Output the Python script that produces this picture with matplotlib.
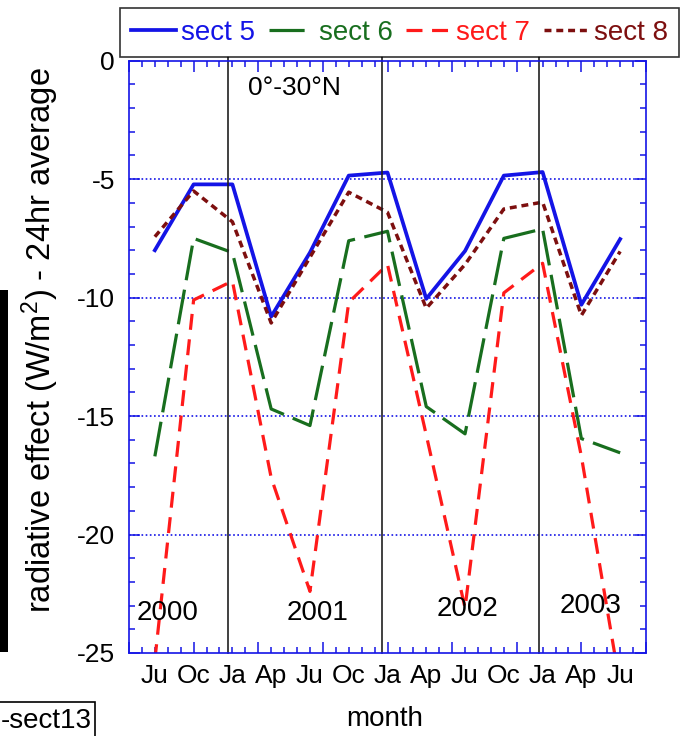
import matplotlib
matplotlib.use('Agg')
import matplotlib.pyplot as plt
from matplotlib.patches import Rectangle

plt.rcParams['font.family'] = ['Liberation Sans Narrow', 'Liberation Sans', 'DejaVu Sans']
plt.rcParams['mathtext.fontset'] = 'custom'
plt.rcParams['mathtext.rm'] = 'Liberation Sans'
plt.rcParams['mathtext.it'] = 'Liberation Sans:italic'

# x = months counted from May 2000, one value per season
month = [2, 5, 8, 11, 14, 17, 20, 23, 26, 29, 32, 35, 38]
month_lab = ['Ju', 'Oc', 'Ja', 'Ap', 'Ju', 'Oc', 'Ja', 'Ap', 'Ju', 'Oc', 'Ja', 'Ap', 'Ju']

sect5 = [-8.0, -5.22, -5.22, -10.8, -8.1, -4.85, -4.72, -10.05, -8.03, -4.85, -4.7, -10.3, -7.53]
sect6 = [-16.7, -7.5, -8.1, -14.7, -15.4, -7.6, -7.2, -14.6, -15.75, -7.5, -7.1, -15.95, -16.55]
sect7 = [-25.3, -10.1, -9.3, -17.6, -22.4, -10.2, -8.6, -15.8, -23.1, -9.8, -8.55, -16.7, -26.4]
sect8 = [-7.43, -5.5, -6.8, -11.07, -8.3, -5.55, -6.4, -10.45, -8.6, -6.26, -5.97, -10.75, -8.05]

years = ['2000', '2001', '2002', '2003']
year_x = [3.0, 14.6, 26.2, 35.7]
year_y = [-23.3, -23.3, -23.15, -23.0]
year_breaks = [7.63, 19.55, 31.75]

blue = '#1414e6'
green = '#186e1e'
red = '#ff1a1a'
maroon = '#7d0f0f'

fig = plt.figure(figsize=(6.86, 7.36), dpi=100)
ax = fig.add_axes([129/686, 1-653/736, 517/686, 592.3/736])

ax.plot(month, sect5, color=blue, lw=2.7, label='sect 5')
ax.plot(month, sect6, color=green, lw=2.3, ls=(0, (11, 3)), label='sect 6')
ax.plot(month, sect7, color=red, lw=2.3, ls=(0, (5, 3)), label='sect 7')
ax.plot(month, sect8, color=maroon, lw=2.5, ls=(0, (2, 1.4)), label='sect 8')

for y in [-5, -10, -15, -20]:
    ax.axhline(y, color=blue, lw=1.2, ls=(0, (1, 1.5)), zorder=0)
for xb in year_breaks:
    ax.axvline(xb, ymin=0, ymax=1.007, color='#202020', lw=1.2, clip_on=False)

ax.set_xlim(0, 40)
ax.set_ylim(-25, 0)
ax.set_xticks(range(0, 41, 5))
ax.set_xticks(range(0, 41), minor=True)
ax.set_xticklabels([])
ax.set_yticks(range(-25, 1, 5))
ax.set_yticks(range(-25, 1), minor=True)
ax.set_yticklabels(['-25', '-20', '-15', '-10', '-5', '0'])
ax.tick_params(which='both', direction='in', top=True, right=True, color=blue, width=1.1)
ax.tick_params(which='major', length=8, labelsize=19, pad=10)
ax.tick_params(which='minor', length=4)
for s in ax.spines.values():
    s.set_color(blue)
    s.set_linewidth(1.2)

for xm, lab in zip(month, month_lab):
    ax.text(xm, -0.018, lab, transform=ax.get_xaxis_transform(), ha='center', va='top', fontsize=19)
for xy, yy, lab in zip(year_x, year_y, years):
    ax.text(xy, yy, lab, ha='center', va='center', fontsize=20)
ax.text(12.8, -1.15, '0°-30°N', ha='center', va='center', fontsize=19)

fig.text(385/686, 1-719/736, 'month', ha='center', va='center', fontsize=20)
fig.text(40/686, 1-340/736, 'radiative effect (W/m$^2$) - 24hr average',
         rotation=90, ha='center', va='center', fontsize=23.5)

leg = fig.legend(loc='lower left', bbox_to_anchor=(120/686, 1-56.7/736, 559/686, 50/736),
                 mode='expand', ncol=4, fontsize=20, handlelength=1.6, handletextpad=0.2,
                 columnspacing=0.4, borderaxespad=0, fancybox=False, labelcolor='linecolor')
leg.get_frame().set_edgecolor('black')
leg.get_frame().set_linewidth(1.2)

# bits of the neighbouring panel at the left edge
fig.patches.append(Rectangle((0, 1-652/736), 8/686, 362/736, transform=fig.transFigure,
                             facecolor='black', edgecolor='none'))
fig.patches.append(Rectangle((-0.01, -0.01), 102/686, 41/736, transform=fig.transFigure,
                             facecolor='white', edgecolor='black', lw=1.2))
fig.text(1/686, 1-721/736, '-sect13', ha='left', va='center', fontsize=20)

fig.savefig('out.png', dpi=100)
